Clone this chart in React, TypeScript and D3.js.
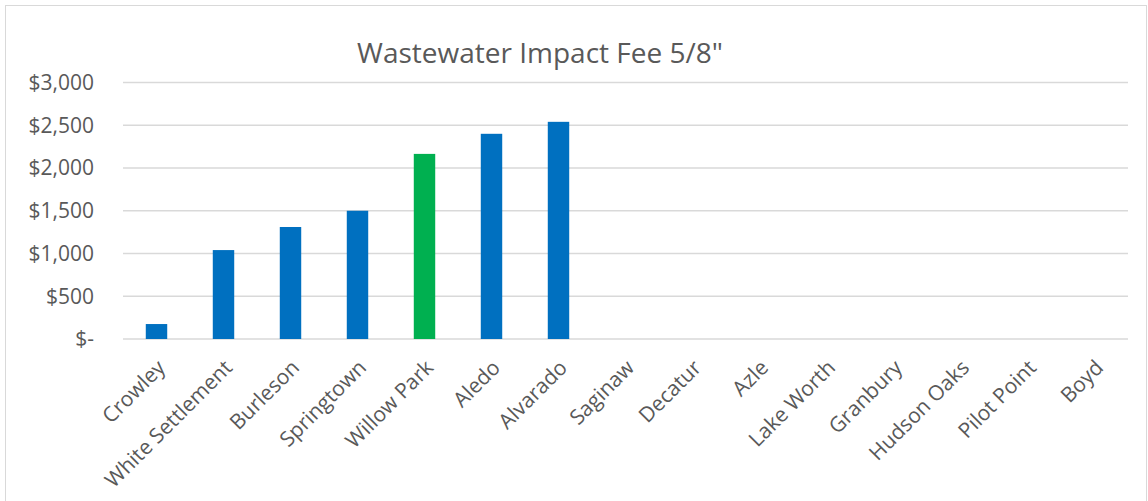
import React from "react";
import * as d3 from "d3";

const cities = [
  "Crowley", "White Settlement", "Burleson", "Springtown", "Willow Park",
  "Aledo", "Alvarado", "Saginaw", "Decatur", "Azle", "Lake Worth",
  "Granbury", "Hudson Oaks", "Pilot Point", "Boyd",
];
const fees = [175, 1040, 1310, 1500, 2165, 2400, 2540, 0, 0, 0, 0, 0, 0, 0, 0];
const highlight = "Willow Park";
const yTicks = [0, 500, 1000, 1500, 2000, 2500, 3000];
const title = 'Wastewater Impact Fee 5/8"';

const W = 1148, H = 501;
const FONT = "'Open Sans', sans-serif";

export default function App() {
  // plot area
  const x = d3.scaleBand().domain(cities).range([123, 1128]).paddingInner(0.68).paddingOuter(0.34);
  const y = d3.scaleLinear().domain([0, 3000]).range([339, 82.5]);
  const fmt = (v: number) => (v === 0 ? "$-" : "$" + d3.format(",")(v));

  return (
    <div style={{ position: "absolute", left: 0, top: 0 }}>
      <svg width={W} height={H} style={{ display: "block", background: "#fff" }}>
        <rect x={5.5} y={5.5} width={1141} height={H + 10} fill="#fff" stroke="#d9d9d9" />
        <text x={540} y={63} textAnchor="middle" fontFamily={FONT} fontSize={28} fill="#595959">
          {title}
        </text>

        {yTicks.map((t) => (
          <g key={t}>
            <line x1={123} x2={1128} y1={y(t)} y2={y(t)} stroke="#d9d9d9" strokeWidth={1.5} />
            <text x={94} y={y(t)} dy="0.35em" textAnchor="end" fontFamily={FONT} fontSize={21} fill="#595959">
              {fmt(t)}
            </text>
          </g>
        ))}

        {cities.map((c, i) =>
          fees[i] > 0 ? (
            <rect
              key={c}
              x={x(c)}
              width={x.bandwidth()}
              y={y(fees[i])}
              height={y(0) - y(fees[i])}
              fill={c === highlight ? "#00B050" : "#0070C0"}
            />
          ) : null
        )}

        {cities.map((c) => (
          <text
            key={c}
            transform={`translate(${(x(c) as number) + x.bandwidth() / 2 + 10},369) rotate(-45)`}
            textAnchor="end"
            fontFamily={FONT}
            fontSize={21}
            fill="#595959"
          >
            {c}
          </text>
        ))}
      </svg>
    </div>
  );
}
